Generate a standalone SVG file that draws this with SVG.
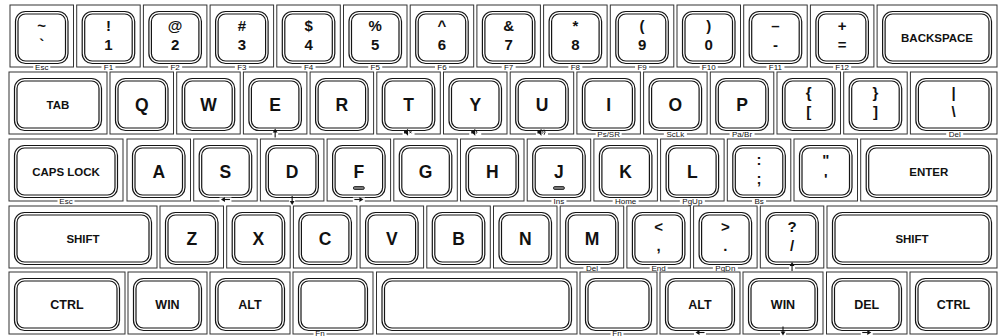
<svg xmlns="http://www.w3.org/2000/svg" xmlns:xlink="http://www.w3.org/1999/xlink" width="1000" height="336" viewBox="0 0 1000 336">
<style>
.cell{fill:#fff;stroke:#333;stroke-width:1}
.cap{fill:none;stroke:#151515;stroke-width:1.2}
.t{font-family:"Liberation Sans",Arial,sans-serif;font-weight:bold;fill:#111;text-anchor:middle}
.l{font-size:17.5px}
.d{font-size:15px}
.w{font-size:11.5px}
.n{font-family:"Liberation Sans Narrow","Liberation Sans",Arial,sans-serif;font-size:12.5px}
.s{font-family:"Liberation Sans",Arial,sans-serif;font-size:8px;fill:#111;text-anchor:middle}
.gap{fill:#fff}
.bump{fill:#777;stroke:#111;stroke-width:0.8}
.ar{stroke:#111;stroke-width:1.1;fill:none}
.ah{fill:#111}
.sp{fill:#111}
.sw{fill:none;stroke:#111;stroke-width:0.9}
</style>
<defs>
<g id="au"><path class="ar" d="M0,4.5V-1"/><path class="ah" d="M-2.4,-0.5L0,-4.5L2.4,-0.5Z"/></g>
<path id="spk" class="sp" d="M-4,-1.3h1.6l2.4,-2.2v7l-2.4,-2.2h-1.6z"/>
</defs>
<rect width="1000" height="336" fill="#fff"/>

<!-- Row 1 -->
<g id="key-tilde"><rect class="cell" x="10" y="5" width="63.5" height="62"/><rect class="cap" x="15.5" y="11.5" width="52.5" height="52" rx="10"/><rect class="cap" x="18" y="14" width="47.5" height="47" rx="7.5"/><text class="t d" x="41.75" y="31">~</text><text class="t d" x="41.75" y="50">`</text><rect class="gap" x="33.25" y="64.5" width="17" height="5"/><text class="s" x="41.75" y="69.5">Esc</text></g>
<g id="key-1"><rect class="cell" x="76.7" y="5" width="63.5" height="62"/><rect class="cap" x="82.2" y="11.5" width="52.5" height="52" rx="10"/><rect class="cap" x="84.7" y="14" width="47.5" height="47" rx="7.5"/><text class="t d" x="108.45" y="31">!</text><text class="t d" x="108.45" y="50">1</text><rect class="gap" x="101.45" y="64.5" width="14" height="5"/><text class="s" x="108.45" y="69.5">F1</text></g>
<g id="key-2"><rect class="cell" x="143.4" y="5" width="63.5" height="62"/><rect class="cap" x="148.9" y="11.5" width="52.5" height="52" rx="10"/><rect class="cap" x="151.4" y="14" width="47.5" height="47" rx="7.5"/><text class="t d" x="175.15" y="31">@</text><text class="t d" x="175.15" y="50">2</text><rect class="gap" x="168.15" y="64.5" width="14" height="5"/><text class="s" x="175.15" y="69.5">F2</text></g>
<g id="key-3"><rect class="cell" x="210.1" y="5" width="63.5" height="62"/><rect class="cap" x="215.6" y="11.5" width="52.5" height="52" rx="10"/><rect class="cap" x="218.1" y="14" width="47.5" height="47" rx="7.5"/><text class="t d" x="241.85" y="31">#</text><text class="t d" x="241.85" y="50">3</text><rect class="gap" x="234.85" y="64.5" width="14" height="5"/><text class="s" x="241.85" y="69.5">F3</text></g>
<g id="key-4"><rect class="cell" x="276.8" y="5" width="63.5" height="62"/><rect class="cap" x="282.3" y="11.5" width="52.5" height="52" rx="10"/><rect class="cap" x="284.8" y="14" width="47.5" height="47" rx="7.5"/><text class="t d" x="308.55" y="31">$</text><text class="t d" x="308.55" y="50">4</text><rect class="gap" x="301.55" y="64.5" width="14" height="5"/><text class="s" x="308.55" y="69.5">F4</text></g>
<g id="key-5"><rect class="cell" x="343.5" y="5" width="63.5" height="62"/><rect class="cap" x="349" y="11.5" width="52.5" height="52" rx="10"/><rect class="cap" x="351.5" y="14" width="47.5" height="47" rx="7.5"/><text class="t d" x="375.25" y="31">%</text><text class="t d" x="375.25" y="50">5</text><rect class="gap" x="368.25" y="64.5" width="14" height="5"/><text class="s" x="375.25" y="69.5">F5</text></g>
<g id="key-6"><rect class="cell" x="410.2" y="5" width="63.5" height="62"/><rect class="cap" x="415.7" y="11.5" width="52.5" height="52" rx="10"/><rect class="cap" x="418.2" y="14" width="47.5" height="47" rx="7.5"/><text class="t d" x="441.95" y="31">^</text><text class="t d" x="441.95" y="50">6</text><rect class="gap" x="434.95" y="64.5" width="14" height="5"/><text class="s" x="441.95" y="69.5">F6</text></g>
<g id="key-7"><rect class="cell" x="476.9" y="5" width="63.5" height="62"/><rect class="cap" x="482.4" y="11.5" width="52.5" height="52" rx="10"/><rect class="cap" x="484.9" y="14" width="47.5" height="47" rx="7.5"/><text class="t d" x="508.65" y="31">&amp;</text><text class="t d" x="508.65" y="50">7</text><rect class="gap" x="501.65" y="64.5" width="14" height="5"/><text class="s" x="508.65" y="69.5">F7</text></g>
<g id="key-8"><rect class="cell" x="543.6" y="5" width="63.5" height="62"/><rect class="cap" x="549.1" y="11.5" width="52.5" height="52" rx="10"/><rect class="cap" x="551.6" y="14" width="47.5" height="47" rx="7.5"/><text class="t d" x="575.35" y="31">*</text><text class="t d" x="575.35" y="50">8</text><rect class="gap" x="568.35" y="64.5" width="14" height="5"/><text class="s" x="575.35" y="69.5">F8</text></g>
<g id="key-9"><rect class="cell" x="610.3" y="5" width="63.5" height="62"/><rect class="cap" x="615.8" y="11.5" width="52.5" height="52" rx="10"/><rect class="cap" x="618.3" y="14" width="47.5" height="47" rx="7.5"/><text class="t d" x="642.05" y="31">(</text><text class="t d" x="642.05" y="50">9</text><rect class="gap" x="635.05" y="64.5" width="14" height="5"/><text class="s" x="642.05" y="69.5">F9</text></g>
<g id="key-0"><rect class="cell" x="677" y="5" width="63.5" height="62"/><rect class="cap" x="682.5" y="11.5" width="52.5" height="52" rx="10"/><rect class="cap" x="685" y="14" width="47.5" height="47" rx="7.5"/><text class="t d" x="708.75" y="31">)</text><text class="t d" x="708.75" y="50">0</text><rect class="gap" x="699.75" y="64.5" width="18" height="5"/><text class="s" x="708.75" y="69.5">F10</text></g>
<g id="key-minus"><rect class="cell" x="743.7" y="5" width="63.5" height="62"/><rect class="cap" x="749.2" y="11.5" width="52.5" height="52" rx="10"/><rect class="cap" x="751.7" y="14" width="47.5" height="47" rx="7.5"/><text class="t d" x="775.45" y="31">–</text><text class="t d" x="775.45" y="50">-</text><rect class="gap" x="766.45" y="64.5" width="18" height="5"/><text class="s" x="775.45" y="69.5">F11</text></g>
<g id="key-equal"><rect class="cell" x="810.4" y="5" width="63.5" height="62"/><rect class="cap" x="815.9" y="11.5" width="52.5" height="52" rx="10"/><rect class="cap" x="818.4" y="14" width="47.5" height="47" rx="7.5"/><text class="t d" x="842.15" y="31">+</text><text class="t d" x="842.15" y="50">=</text><rect class="gap" x="833.15" y="64.5" width="18" height="5"/><text class="s" x="842.15" y="69.5">F12</text></g>
<g id="key-backspace"><rect class="cell" x="877.1" y="5" width="119.9" height="62"/><rect class="cap" x="882.6" y="11.5" width="108.9" height="52" rx="10"/><rect class="cap" x="885.1" y="14" width="103.9" height="47" rx="7.5"/><text class="t w" x="937.05" y="41.5">BACKSPACE</text></g>

<!-- Row 2 -->
<g id="key-tab"><rect class="cell" x="9" y="72" width="98" height="62"/><rect class="cap" x="14.5" y="78.5" width="87" height="52" rx="10"/><rect class="cap" x="17" y="81" width="82" height="47" rx="7.5"/><text class="t w" x="58" y="108.5">TAB</text></g>
<g id="key-q"><rect class="cell" x="110" y="72" width="63.5" height="62"/><rect class="cap" x="115.5" y="78.5" width="52.5" height="52" rx="10"/><rect class="cap" x="118" y="81" width="47.5" height="47" rx="7.5"/><text class="t l" x="141.75" y="111">Q</text></g>
<g id="key-w"><rect class="cell" x="176.7" y="72" width="63.5" height="62"/><rect class="cap" x="182.2" y="78.5" width="52.5" height="52" rx="10"/><rect class="cap" x="184.7" y="81" width="47.5" height="47" rx="7.5"/><text class="t l" x="208.45" y="111">W</text></g>
<g id="key-e"><rect class="cell" x="243.4" y="72" width="63.5" height="62"/><rect class="cap" x="248.9" y="78.5" width="52.5" height="52" rx="10"/><rect class="cap" x="251.4" y="81" width="47.5" height="47" rx="7.5"/><text class="t l" x="275.15" y="111">E</text><rect class="gap" x="272.15" y="131.5" width="6" height="5"/><use xlink:href="#au" transform="translate(275.15,133)"/></g>
<g id="key-r"><rect class="cell" x="310.1" y="72" width="63.5" height="62"/><rect class="cap" x="315.6" y="78.5" width="52.5" height="52" rx="10"/><rect class="cap" x="318.1" y="81" width="47.5" height="47" rx="7.5"/><text class="t l" x="341.85" y="111">R</text></g>
<g id="key-t"><rect class="cell" x="376.8" y="72" width="63.5" height="62"/><rect class="cap" x="382.3" y="78.5" width="52.5" height="52" rx="10"/><rect class="cap" x="384.8" y="81" width="47.5" height="47" rx="7.5"/><text class="t l" x="408.55" y="111">T</text><rect class="gap" x="402.55" y="131.5" width="12" height="5"/><g transform="translate(408.05,132.2)"><use xlink:href="#spk"/><path class="sw" d="M1.4,-1.1l2,2.2M3.4,-1.1l-2,2.2"/></g></g>
<g id="key-y"><rect class="cell" x="443.5" y="72" width="63.5" height="62"/><rect class="cap" x="449" y="78.5" width="52.5" height="52" rx="10"/><rect class="cap" x="451.5" y="81" width="47.5" height="47" rx="7.5"/><text class="t l" x="475.25" y="111">Y</text><rect class="gap" x="469.25" y="131.5" width="12" height="5"/><g transform="translate(475.25,132.2)"><use xlink:href="#spk"/><path class="sw" d="M1.1,-1.4q1.1,1.4 0,2.8"/></g></g>
<g id="key-u"><rect class="cell" x="510.2" y="72" width="63.5" height="62"/><rect class="cap" x="515.7" y="78.5" width="52.5" height="52" rx="10"/><rect class="cap" x="518.2" y="81" width="47.5" height="47" rx="7.5"/><text class="t l" x="541.95" y="111">U</text><rect class="gap" x="535.95" y="131.5" width="12" height="5"/><g transform="translate(541.45,132.2)"><use xlink:href="#spk"/><path class="sw" d="M1.1,-1.4q1.1,1.4 0,2.8M2.6,-2.6q2,2.6 0,5.2"/></g></g>
<g id="key-i"><rect class="cell" x="576.9" y="72" width="63.5" height="62"/><rect class="cap" x="582.4" y="78.5" width="52.5" height="52" rx="10"/><rect class="cap" x="584.9" y="81" width="47.5" height="47" rx="7.5"/><text class="t l" x="608.65" y="111">I</text><rect class="gap" x="595.65" y="131.5" width="26" height="5"/><text class="s" x="608.65" y="136.5">Ps/SR</text></g>
<g id="key-o"><rect class="cell" x="643.6" y="72" width="63.5" height="62"/><rect class="cap" x="649.1" y="78.5" width="52.5" height="52" rx="10"/><rect class="cap" x="651.6" y="81" width="47.5" height="47" rx="7.5"/><text class="t l" x="675.35" y="111">O</text><rect class="gap" x="663.85" y="131.5" width="23" height="5"/><text class="s" x="675.35" y="136.5">ScLk</text></g>
<g id="key-p"><rect class="cell" x="710.3" y="72" width="63.5" height="62"/><rect class="cap" x="715.8" y="78.5" width="52.5" height="52" rx="10"/><rect class="cap" x="718.3" y="81" width="47.5" height="47" rx="7.5"/><text class="t l" x="742.05" y="111">P</text><rect class="gap" x="729.55" y="131.5" width="25" height="5"/><text class="s" x="742.05" y="136.5">Pa/Br</text></g>
<g id="key-lbracket"><rect class="cell" x="777" y="72" width="63.5" height="62"/><rect class="cap" x="782.5" y="78.5" width="52.5" height="52" rx="10"/><rect class="cap" x="785" y="81" width="47.5" height="47" rx="7.5"/><text class="t d" x="808.75" y="98">{</text><text class="t d" x="808.75" y="117">[</text></g>
<g id="key-rbracket"><rect class="cell" x="843.7" y="72" width="63.5" height="62"/><rect class="cap" x="849.2" y="78.5" width="52.5" height="52" rx="10"/><rect class="cap" x="851.7" y="81" width="47.5" height="47" rx="7.5"/><text class="t d" x="875.45" y="98">}</text><text class="t d" x="875.45" y="117">]</text></g>
<g id="key-backslash"><rect class="cell" x="910.4" y="72" width="86.6" height="62"/><rect class="cap" x="915.9" y="78.5" width="75.6" height="52" rx="10"/><rect class="cap" x="918.4" y="81" width="70.6" height="47" rx="7.5"/><text class="t d" x="953.7" y="98">|</text><text class="t d" x="953.7" y="117">\</text><rect class="gap" x="946.2" y="131.5" width="17" height="5"/><text class="s" x="954.7" y="136.5">Del</text></g>

<!-- Row 3 -->
<g id="key-capslock"><rect class="cell" x="9" y="139" width="114" height="62"/><rect class="cap" x="14.5" y="145.5" width="103" height="52" rx="10"/><rect class="cap" x="17" y="148" width="98" height="47" rx="7.5"/><text class="t w" x="66" y="175.5">CAPS LOCK</text><rect class="gap" x="57.5" y="198.5" width="17" height="5"/><text class="s" x="66" y="203.5">Esc</text></g>
<g id="key-a"><rect class="cell" x="127" y="139" width="63.5" height="62"/><rect class="cap" x="132.5" y="145.5" width="52.5" height="52" rx="10"/><rect class="cap" x="135" y="148" width="47.5" height="47" rx="7.5"/><text class="t l" x="158.75" y="178">A</text></g>
<g id="key-s"><rect class="cell" x="193.7" y="139" width="63.5" height="62"/><rect class="cap" x="199.2" y="145.5" width="52.5" height="52" rx="10"/><rect class="cap" x="201.7" y="148" width="47.5" height="47" rx="7.5"/><text class="t l" x="225.45" y="178">S</text><rect class="gap" x="219.45" y="197.5" width="12" height="5"/><use xlink:href="#au" transform="translate(225.45,199.5) rotate(-90)"/></g>
<g id="key-d"><rect class="cell" x="260.4" y="139" width="63.5" height="62"/><rect class="cap" x="265.9" y="145.5" width="52.5" height="52" rx="10"/><rect class="cap" x="268.4" y="148" width="47.5" height="47" rx="7.5"/><text class="t l" x="292.15" y="178">D</text><rect class="gap" x="289.15" y="198.5" width="6" height="5"/><use xlink:href="#au" transform="translate(292.15,200.5) rotate(180)"/></g>
<g id="key-f"><rect class="cell" x="327.1" y="139" width="63.5" height="62"/><rect class="cap" x="332.6" y="145.5" width="52.5" height="52" rx="10"/><rect class="cap" x="335.1" y="148" width="47.5" height="47" rx="7.5"/><text class="t l" x="358.85" y="178">F</text><rect class="bump" x="353.35" y="186.5" width="11" height="3" rx="1.5"/><rect class="gap" x="352.85" y="197.5" width="12" height="5"/><use xlink:href="#au" transform="translate(358.85,199.5) rotate(90)"/></g>
<g id="key-g"><rect class="cell" x="393.8" y="139" width="63.5" height="62"/><rect class="cap" x="399.3" y="145.5" width="52.5" height="52" rx="10"/><rect class="cap" x="401.8" y="148" width="47.5" height="47" rx="7.5"/><text class="t l" x="425.55" y="178">G</text></g>
<g id="key-h"><rect class="cell" x="460.5" y="139" width="63.5" height="62"/><rect class="cap" x="466" y="145.5" width="52.5" height="52" rx="10"/><rect class="cap" x="468.5" y="148" width="47.5" height="47" rx="7.5"/><text class="t l" x="492.25" y="178">H</text></g>
<g id="key-j"><rect class="cell" x="527.2" y="139" width="63.5" height="62"/><rect class="cap" x="532.7" y="145.5" width="52.5" height="52" rx="10"/><rect class="cap" x="535.2" y="148" width="47.5" height="47" rx="7.5"/><text class="t l" x="558.95" y="178">J</text><rect class="bump" x="553.45" y="186.5" width="11" height="3" rx="1.5"/><rect class="gap" x="551.45" y="198.5" width="15" height="5"/><text class="s" x="558.95" y="203.5">Ins</text></g>
<g id="key-k"><rect class="cell" x="593.9" y="139" width="63.5" height="62"/><rect class="cap" x="599.4" y="145.5" width="52.5" height="52" rx="10"/><rect class="cap" x="601.9" y="148" width="47.5" height="47" rx="7.5"/><text class="t l" x="625.65" y="178">K</text><rect class="gap" x="612.65" y="198.5" width="26" height="5"/><text class="s" x="625.65" y="203.5">Home</text></g>
<g id="key-l"><rect class="cell" x="660.6" y="139" width="63.5" height="62"/><rect class="cap" x="666.1" y="145.5" width="52.5" height="52" rx="10"/><rect class="cap" x="668.6" y="148" width="47.5" height="47" rx="7.5"/><text class="t l" x="692.35" y="178">L</text><rect class="gap" x="679.85" y="198.5" width="25" height="5"/><text class="s" x="692.35" y="203.5">PgUp</text></g>
<g id="key-semicolon"><rect class="cell" x="727.3" y="139" width="63.5" height="62"/><rect class="cap" x="732.8" y="145.5" width="52.5" height="52" rx="10"/><rect class="cap" x="735.3" y="148" width="47.5" height="47" rx="7.5"/><text class="t d" x="759.05" y="165">:</text><text class="t d" x="759.05" y="184">;</text><rect class="gap" x="752.05" y="198.5" width="14" height="5"/><text class="s" x="759.05" y="203.5">Bs</text></g>
<g id="key-quote"><rect class="cell" x="794" y="139" width="63.5" height="62"/><rect class="cap" x="799.5" y="145.5" width="52.5" height="52" rx="10"/><rect class="cap" x="802" y="148" width="47.5" height="47" rx="7.5"/><text class="t d" x="825.75" y="165">"</text><text class="t d" x="825.75" y="184">'</text></g>
<g id="key-enter"><rect class="cell" x="860.7" y="139" width="136.3" height="62"/><rect class="cap" x="866.2" y="145.5" width="125.3" height="52" rx="10"/><rect class="cap" x="868.7" y="148" width="120.3" height="47" rx="7.5"/><text class="t w" x="928.85" y="175.5">ENTER</text></g>

<!-- Row 4 -->
<g id="key-lshift"><rect class="cell" x="9" y="206" width="148" height="62"/><rect class="cap" x="14.5" y="212.5" width="137" height="52" rx="10"/><rect class="cap" x="17" y="215" width="132" height="47" rx="7.5"/><text class="t w" x="83" y="242.5">SHIFT</text></g>
<g id="key-z"><rect class="cell" x="160" y="206" width="63.5" height="62"/><rect class="cap" x="165.5" y="212.5" width="52.5" height="52" rx="10"/><rect class="cap" x="168" y="215" width="47.5" height="47" rx="7.5"/><text class="t l" x="191.75" y="245">Z</text></g>
<g id="key-x"><rect class="cell" x="226.7" y="206" width="63.5" height="62"/><rect class="cap" x="232.2" y="212.5" width="52.5" height="52" rx="10"/><rect class="cap" x="234.7" y="215" width="47.5" height="47" rx="7.5"/><text class="t l" x="258.45" y="245">X</text></g>
<g id="key-c"><rect class="cell" x="293.4" y="206" width="63.5" height="62"/><rect class="cap" x="298.9" y="212.5" width="52.5" height="52" rx="10"/><rect class="cap" x="301.4" y="215" width="47.5" height="47" rx="7.5"/><text class="t l" x="325.15" y="245">C</text></g>
<g id="key-v"><rect class="cell" x="360.1" y="206" width="63.5" height="62"/><rect class="cap" x="365.6" y="212.5" width="52.5" height="52" rx="10"/><rect class="cap" x="368.1" y="215" width="47.5" height="47" rx="7.5"/><text class="t l" x="391.85" y="245">V</text></g>
<g id="key-b"><rect class="cell" x="426.8" y="206" width="63.5" height="62"/><rect class="cap" x="432.3" y="212.5" width="52.5" height="52" rx="10"/><rect class="cap" x="434.8" y="215" width="47.5" height="47" rx="7.5"/><text class="t l" x="458.55" y="245">B</text></g>
<g id="key-n"><rect class="cell" x="493.5" y="206" width="63.5" height="62"/><rect class="cap" x="499" y="212.5" width="52.5" height="52" rx="10"/><rect class="cap" x="501.5" y="215" width="47.5" height="47" rx="7.5"/><text class="t l" x="525.25" y="245">N</text></g>
<g id="key-m"><rect class="cell" x="560.2" y="206" width="63.5" height="62"/><rect class="cap" x="565.7" y="212.5" width="52.5" height="52" rx="10"/><rect class="cap" x="568.2" y="215" width="47.5" height="47" rx="7.5"/><text class="t l" x="591.95" y="245">M</text><rect class="gap" x="583.45" y="265.5" width="17" height="5"/><text class="s" x="591.95" y="270.5">Del</text></g>
<g id="key-comma"><rect class="cell" x="626.9" y="206" width="63.5" height="62"/><rect class="cap" x="632.4" y="212.5" width="52.5" height="52" rx="10"/><rect class="cap" x="634.9" y="215" width="47.5" height="47" rx="7.5"/><text class="t d" x="658.65" y="232">&lt;</text><text class="t d" x="658.65" y="251">,</text><rect class="gap" x="649.65" y="265.5" width="18" height="5"/><text class="s" x="658.65" y="270.5">End</text></g>
<g id="key-period"><rect class="cell" x="693.6" y="206" width="63.5" height="62"/><rect class="cap" x="699.1" y="212.5" width="52.5" height="52" rx="10"/><rect class="cap" x="701.6" y="215" width="47.5" height="47" rx="7.5"/><text class="t d" x="725.35" y="232">&gt;</text><text class="t d" x="725.35" y="251">.</text><rect class="gap" x="712.85" y="265.5" width="25" height="5"/><text class="s" x="725.35" y="270.5">PgDn</text></g>
<g id="key-slash"><rect class="cell" x="760.3" y="206" width="63.5" height="62"/><rect class="cap" x="765.8" y="212.5" width="52.5" height="52" rx="10"/><rect class="cap" x="768.3" y="215" width="47.5" height="47" rx="7.5"/><text class="t d" x="792.05" y="232">?</text><text class="t d" x="792.05" y="251">/</text><rect class="gap" x="789.05" y="265.5" width="6" height="5"/><use xlink:href="#au" transform="translate(792.05,266.5)"/></g>
<g id="key-rshift"><rect class="cell" x="827" y="206" width="170" height="62"/><rect class="cap" x="832.5" y="212.5" width="159" height="52" rx="10"/><rect class="cap" x="835" y="215" width="154" height="47" rx="7.5"/><text class="t w" x="912" y="242.5">SHIFT</text></g>

<!-- Row 5 -->
<g id="key-lctrl"><rect class="cell" x="9" y="272" width="116" height="62"/><rect class="cap" x="14.5" y="278.5" width="105" height="52" rx="10"/><rect class="cap" x="17" y="281" width="100" height="47" rx="7.5"/><text class="t n" x="67" y="309">CTRL</text></g>
<g id="key-lwin"><rect class="cell" x="128" y="272" width="79" height="62"/><rect class="cap" x="133.5" y="278.5" width="68" height="52" rx="10"/><rect class="cap" x="136" y="281" width="63" height="47" rx="7.5"/><text class="t n" x="167.5" y="309">WIN</text></g>
<g id="key-lalt"><rect class="cell" x="210" y="272" width="80" height="62"/><rect class="cap" x="215.5" y="278.5" width="69" height="52" rx="10"/><rect class="cap" x="218" y="281" width="64" height="47" rx="7.5"/><text class="t n" x="250" y="309">ALT</text></g>
<g id="key-lfn"><rect class="cell" x="293" y="272" width="80" height="62"/><rect class="cap" x="298.5" y="278.5" width="69" height="52" rx="10"/><rect class="cap" x="301" y="281" width="64" height="47" rx="7.5"/><rect class="gap" x="313.5" y="331.5" width="13" height="5"/><text class="s" x="320" y="335.8">Fn</text></g>
<g id="key-space"><rect class="cell" x="376.5" y="272" width="200.5" height="62"/><rect class="cap" x="382" y="278.5" width="189.5" height="52" rx="10"/><rect class="cap" x="384.5" y="281" width="184.5" height="47" rx="7.5"/></g>
<g id="key-rfn"><rect class="cell" x="580" y="272" width="77" height="62"/><rect class="cap" x="585.5" y="278.5" width="66" height="52" rx="10"/><rect class="cap" x="588" y="281" width="61" height="47" rx="7.5"/><rect class="gap" x="610.5" y="331.5" width="13" height="5"/><text class="s" x="617" y="335.8">Fn</text></g>
<g id="key-ralt"><rect class="cell" x="660" y="272" width="80" height="62"/><rect class="cap" x="665.5" y="278.5" width="69" height="52" rx="10"/><rect class="cap" x="668" y="281" width="64" height="47" rx="7.5"/><text class="t n" x="700" y="309">ALT</text><rect class="gap" x="694" y="331.5" width="12" height="5"/><use xlink:href="#au" transform="translate(700,332.5) rotate(-90)"/></g>
<g id="key-rwin"><rect class="cell" x="743" y="272" width="80" height="62"/><rect class="cap" x="748.5" y="278.5" width="69" height="52" rx="10"/><rect class="cap" x="751" y="281" width="64" height="47" rx="7.5"/><text class="t n" x="783" y="309">WIN</text><rect class="gap" x="780" y="331.5" width="6" height="5"/><use xlink:href="#au" transform="translate(783,331) rotate(180)"/></g>
<g id="key-del"><rect class="cell" x="826.5" y="272" width="80.5" height="62"/><rect class="cap" x="832" y="278.5" width="69.5" height="52" rx="10"/><rect class="cap" x="834.5" y="281" width="64.5" height="47" rx="7.5"/><text class="t n" x="866.75" y="309">DEL</text><rect class="gap" x="860.75" y="331.5" width="12" height="5"/><use xlink:href="#au" transform="translate(866.75,332.5) rotate(90)"/></g>
<g id="key-rctrl"><rect class="cell" x="910" y="272" width="87" height="62"/><rect class="cap" x="915.5" y="278.5" width="76" height="52" rx="10"/><rect class="cap" x="918" y="281" width="71" height="47" rx="7.5"/><text class="t n" x="953.5" y="309">CTRL</text></g>
</svg>
